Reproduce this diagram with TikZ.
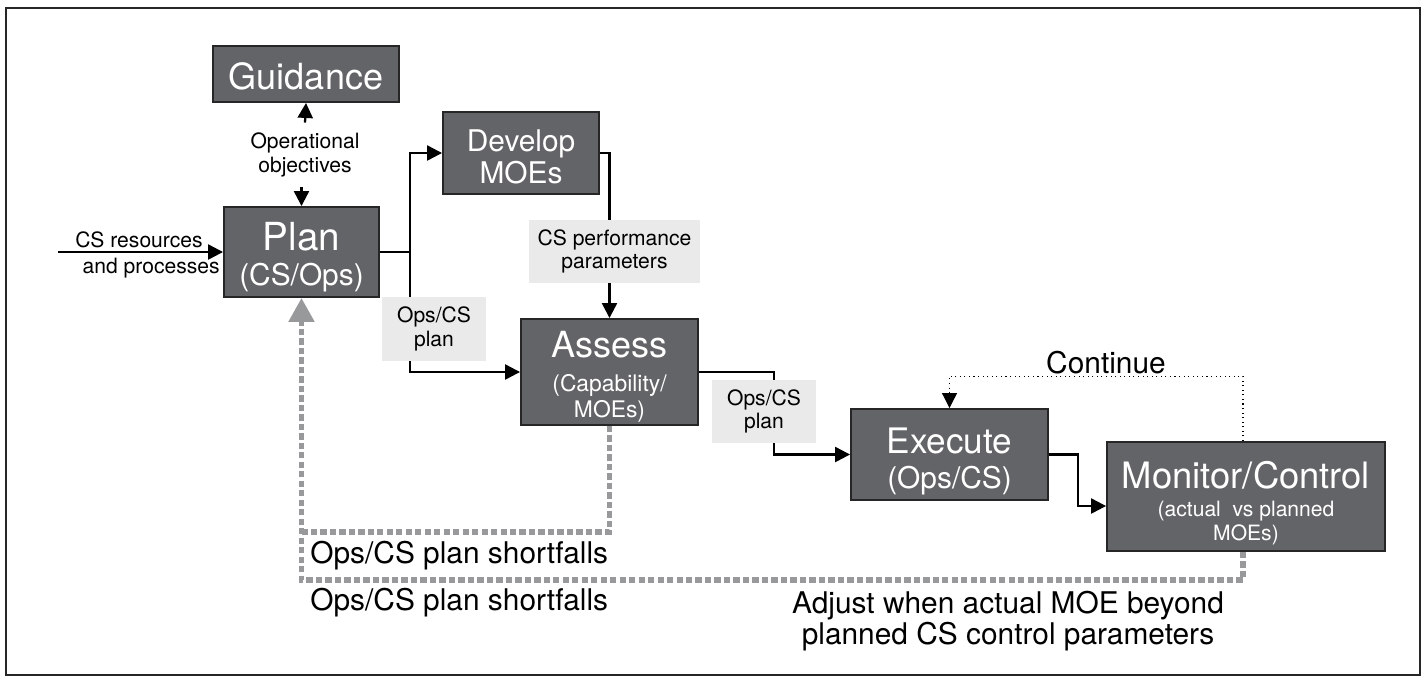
\documentclass[tikz,border=0pt]{standalone}
\usepackage{fontspec}
\setmainfont{TeX Gyre Heros}
\usetikzlibrary{arrows.meta}

\definecolor{boxgray}{HTML}{636467}
\definecolor{notegray}{HTML}{E9EAE9}
\definecolor{dashgray}{HTML}{98999B}
\newcommand{\fsz}[2][1.2]{\fontsize{#2}{#1\dimexpr #2pt\relax}\selectfont}
\newcommand{\topstrut}[1][1em]{\rule{0pt}{#1}}

\tikzset{
  >={Triangle[length=0.3cm,width=0.3cm]},
  stepbox/.style={draw=black!85, line width=1.1pt, fill=boxgray, text=white, align=center, inner sep=0pt},
  notebox/.style={fill=notegray, align=center, inner sep=0pt, font=\fontsize{12}{13.2}\selectfont},
  flow/.style={line width=1.3pt, ->},
  shortfall/.style={draw=dashgray, line width=3pt, dash pattern=on 3.6pt off 1.8pt},
}

\begin{document}
\begin{tikzpicture}[x=0.02cm,y=-0.02cm]
\useasboundingbox (0,0) rectangle (1426,677);
\draw[line width=1.6pt, black!85] (6,8) rectangle (1420,675);

% the steps
\node[stepbox, minimum width=3.72cm, minimum height=1.12cm, font=\fontsize{20.5}{24}\selectfont] (guid) at (306,74) {\topstrut[0.9em]Guidance};
\node[stepbox, minimum width=3.1cm, minimum height=1.8cm, font=\fontsize{22}{19.8}\selectfont] (plan) at (301.5,252) {\topstrut Plan\\{\fsz{17}(CS/Ops)}};
\node[stepbox, minimum width=3.12cm, minimum height=1.64cm, font=\fontsize{17}{18}\selectfont] (dev) at (521,153) {\topstrut Develop\\MOEs};
\node[stepbox, minimum width=3.54cm, minimum height=2.12cm, font=\fontsize{20.5}{14.7}\selectfont] (assess) at (609.5,372) {\topstrut Assess\\[4.3pt]{\fsz{13}(Capability/}\\{\fsz{13}MOEs)}};
\node[stepbox, minimum width=3.94cm, minimum height=1.82cm, font=\fontsize{20}{20}\selectfont] (exec) at (949.5,454.5) {\topstrut[1.1em]Execute\\{\fsz{17}(Ops/CS)}};
\node[stepbox, minimum width=5.56cm, minimum height=2.18cm, font=\fontsize{20.7}{13.6}\selectfont] (mon) at (1246,496.5) {\topstrut[1.1em]Monitor/Control\\[2.4pt]{\fsz{12}(actual~ vs planned}\\{\fsz{12}MOEs)}};

% inputs
\node[inner xsep=0pt, inner ysep=0.2cm, align=center, font=\fontsize{12}{13.6}\selectfont] (obj) at (305,155) {Operational\\objectives};
\coordinate (src) at (58,252);
\node[anchor=base east, inner sep=0pt, font=\fsz{12}] (resa) at (203,247) {CS resources};
\node[anchor=base east, inner sep=0pt, font=\fsz{12}] (resb) at (220,273) {and processes};

\draw[flow] (obj.north) -- (guid.south);
\draw[flow] (plan.north |- obj.south) -- (plan.north);
\draw[flow] (src) -- (plan.west);

% main flow
\coordinate (split) at (410,252);
\draw[flow] (plan.east) -- (split) |- (dev.west);
\draw[flow] (split) |- (assess.west);
\draw[flow] (dev.east) -| (assess.north);
\draw[flow] (assess.east) -- ++(75,0) |- (exec.west);
\draw[flow] (exec.east) -- ++(29,0) |- ([yshift=-0.19cm]mon.west);
\draw[dotted, line width=0.6pt, ->] ([xshift=-0.06cm]mon.north) -- ++(0,-65) -| (exec.north);
\node[anchor=base, inner sep=0pt, font=\fsz{17}] (cont) at (1106,373) {Continue};

% labels on the lines
\node[notebox, minimum width=3.42cm, minimum height=1.26cm] (perf) at (614.5,251.5) {CS performance\\parameters};
\node[notebox, minimum width=2.08cm, minimum height=1.28cm] (opsa) at (434,329) {Ops/CS\\plan};
\node[notebox, minimum width=2.08cm, minimum height=1.26cm] (opsb) at (764,411.5) {Ops/CS\\plan};

% shortfalls back to plan
\coordinate (loopa) at (plan.south |- 0,532);
\coordinate (loopb) at (plan.south |- 0,580);
\draw[shortfall] (assess.south) |- (loopa);
\draw[shortfall, -{Triangle[length=0.48cm,width=0.5cm]}] ([xshift=-0.06cm]mon.south) |- (loopb) -- (plan.south);

\node[anchor=base west, inner sep=0pt, font=\fsz{17}] (shorta) at (310,563) {Ops/CS plan shortfalls};
\node[anchor=base west, inner sep=0pt, font=\fsz{17}] (shortb) at (310,610) {Ops/CS plan shortfalls};
\node[align=center, inner sep=0pt, font=\fontsize{17}{15.9}\selectfont] (adj) at (1008,621) {Adjust when actual MOE beyond\\planned CS control parameters};

\end{tikzpicture}
\end{document}
